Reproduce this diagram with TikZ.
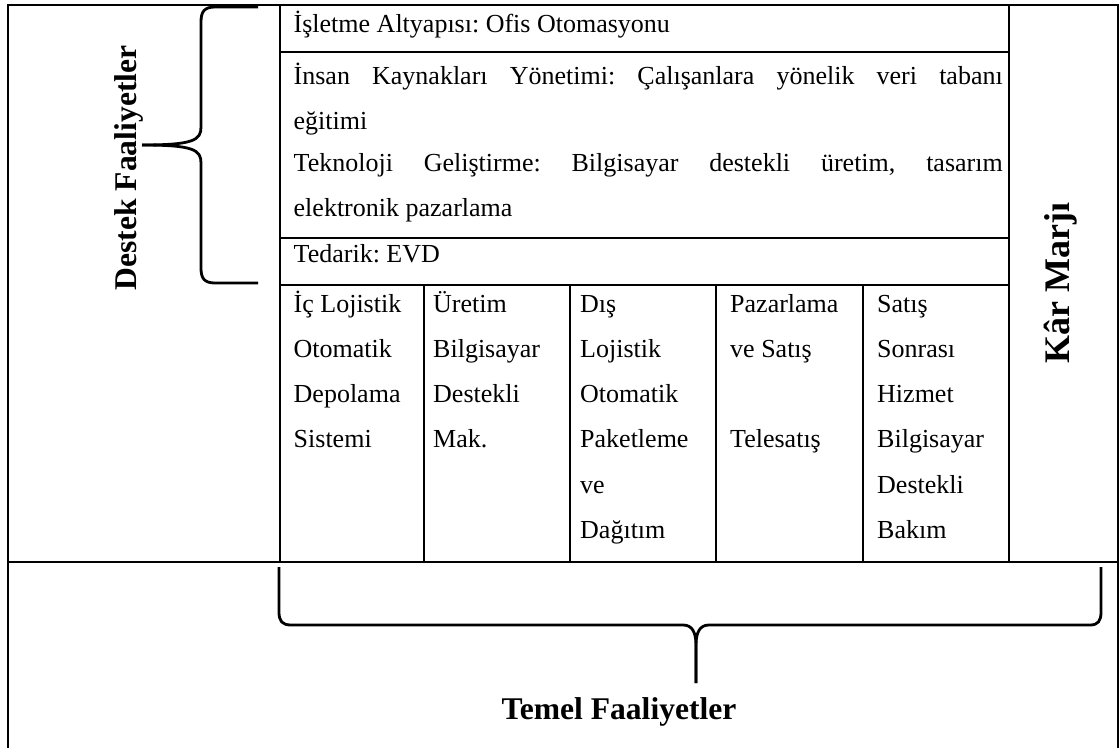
\documentclass[tikz,border=0pt]{standalone}
\usepackage{fontspec}
\setmainfont{Liberation Serif}
\frenchspacing
\begin{document}
\begin{tikzpicture}[x=1pt,y=-1pt,
  rule/.style={line width=2.6pt, line cap=rect},
  brace/.style={line width=2.8pt, line join=round, line cap=butt},
  cell/.style={anchor=base west, inner sep=0pt, font=\fontsize{26}{26}\selectfont\frenchspacing},
  bigbold/.style={inner sep=0pt, anchor=base, font=\fontsize{31.6}{32}\selectfont\bfseries},
]
\useasboundingbox (0,0) rectangle (1119,747);

% grid corners
\coordinate (fTL) at (8,5);
\coordinate (fTR) at (1118,5);
\coordinate (fBL) at (8,750);
\coordinate (fBR) at (1118,750);
\coordinate (sepL) at (8,562);
\coordinate (sepR) at (1118,562);

% outer frame and the line under the value chain
\draw[rule] (fBL) -- (fTL) -- (fTR) -- (fBR);
\draw[rule] (sepL) -- (sepR);

% table body
\draw[rule] (280,5) -- (280,562);
\draw[rule] (1009,5) -- (1009,562);
\draw[rule] (280,52) -- (1009,52);
\draw[rule] (280,238) -- (1009,238);
\draw[rule] (280,285) -- (1009,285);
\foreach \cx in {424,570,716,863}
  \draw[rule] (\cx,285) -- (\cx,562);

% support activities
\node[cell] (r1) at (293.5,32) {İşletme Altyapısı: Ofis Otomasyonu};
\node[cell] (r2a) at (293.5,84) {\makebox[709pt][s]{İnsan Kaynakları Yönetimi: Çalışanlara yönelik veri tabanı}};
\node[cell] (r2b) at (293.5,129) {eğitimi};
\node[cell] (r3a) at (293.5,171) {\makebox[709pt][s]{Teknoloji Geliştirme: Bilgisayar destekli üretim, tasarım}};
\node[cell] (r3b) at (293.5,216) {elektronik pazarlama};
\node[cell] (r4) at (293.5,262) {Tedarik: EVD};

% primary activities
\foreach \t [count=\i] in {İç Lojistik,Otomatik,Depolama,Sistemi}
  \node[cell] (c1-\i) at (293.5,{267+45*\i}) {\t};
\foreach \t [count=\i] in {Üretim,Bilgisayar,Destekli,Mak.}
  \node[cell] (c2-\i) at (433,{267+45*\i}) {\t};
\foreach \t [count=\i] in {Dış,Lojistik,Otomatik,Paketleme,ve,Dağıtım}
  \node[cell] (c3-\i) at (580,{267+45.2*\i}) {\t};
\node[cell] (c4-1) at (730,312) {Pazarlama};
\node[cell] (c4-2) at (730,357) {ve Satış};
\node[cell] (c4-4) at (730,447) {Telesatış};
\foreach \t [count=\i] in {Satış,Sonrası,Hizmet,Bilgisayar,Destekli,Bakım}
  \node[cell] (c5-\i) at (877,{267+45.2*\i}) {\t};

% labels
\node[bigbold, rotate=90] (destek) at (136,168) {Destek Faaliyetler};
\node[bigbold, rotate=90, font=\fontsize{36}{36}\selectfont\bfseries] (kar) at (1069,283) {Kâr Marjı};
\node[bigbold] (temel) at (619,719) {Temel Faaliyetler};

% brace over the support activities
\coordinate (lbTip) at (142,145);
\draw[brace] (258,7) -- (215,7) .. controls (204,7) and (201,12) .. (201,22)
  -- (201,127) .. controls (201,140) and (194,145) .. (lbTip);
\draw[brace] (lbTip) .. controls (194,145) and (201,150) .. (201,163)
  -- (201,268) .. controls (201,278) and (204,283) .. (215,283) -- (258,283);

% brace under the primary activities
\coordinate (bbTip) at (696,683);
\draw[brace] (279,567) -- (279,612) .. controls (279,621) and (282,625) .. (291,625)
  -- (683,625) .. controls (692,625) and (696,632) .. (696,645) -- (bbTip);
\draw[brace] (bbTip) -- (696,645) .. controls (696,632) and (700,625) .. (709,625)
  -- (1090,625) .. controls (1098,625) and (1101,621) .. (1101,612) -- (1101,567);
\end{tikzpicture}
\end{document}
